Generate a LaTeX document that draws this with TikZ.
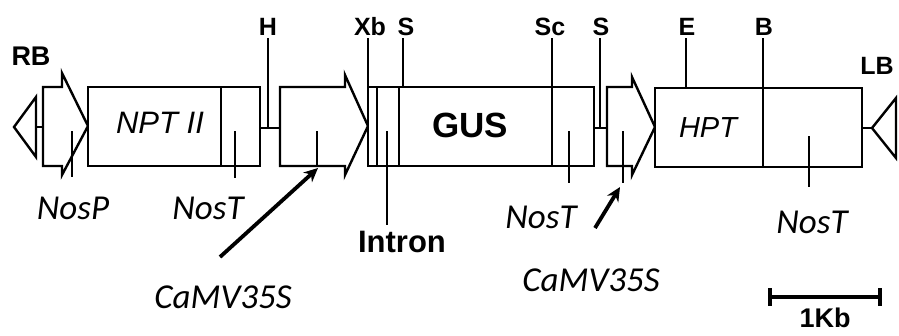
\documentclass[tikz,border=0pt]{standalone}
\usepackage{fontspec}
\setmainfont{Liberation Sans}
\newfontfamily\calfont{Carlito}
\usetikzlibrary{arrows.meta}
\tikzset{
  part/.style={draw=black, line width=2.4pt, line join=miter, fill=white},
  tick/.style={draw=black, line width=2.4pt},
  site/.style={font=\fontsize{25}{27}\selectfont\bfseries, inner sep=0pt},
  lab/.style={font=\calfont\itshape\fontsize{35}{38}\selectfont, inner sep=0pt},
  pointer/.style={draw=black, line width=3.8pt, -{Stealth[length=14pt,width=13pt]}},
}
\begin{document}
\begin{tikzpicture}[x=1pt,y=-1pt]
\useasboundingbox (0,0) rectangle (899,335);
% backbone links
\draw[tick] (36,127) -- (43,127);
\draw[tick] (260,128) -- (280,128);
\draw[tick] (594,128) -- (607,128);
\draw[tick] (862,128) -- (872,128);
% RB border
\draw[part] (36,97) -- (14,127) -- (36,157) -- cycle;
% NosP promoter arrow
\draw[part] (43,87) -- (62,87) -- (62,73) -- (88,126) -- (62,175) -- (62,166) -- (43,166) -- cycle;
% NPT II + NosT
\draw[part] (88,87) rectangle (260,166);
\draw[tick] (221,87) -- (221,166);
% CaMV35S promoter 1
\draw[part] (280,87) -- (345,87) -- (345,75) -- (368,126) -- (345,175) -- (345,166) -- (280,166) -- cycle;
% GUS box
\draw[part] (368,87) rectangle (594,166);
\draw[tick] (377,87) -- (377,166);
\draw[tick] (399,87) -- (399,166);
\draw[tick] (552,87) -- (552,166);
% CaMV35S promoter 2
\draw[part] (607,87) -- (632,87) -- (632,77) -- (655,127) -- (632,175) -- (632,166) -- (607,166) -- cycle;
% HPT + NosT
\draw[part] (655,88) rectangle (862,167);
\draw[tick] (763,88) -- (763,167);
% LB border
\draw[part] (896,98) -- (872,128) -- (896,158) -- cycle;
% site lines
\draw[tick] (268,38) -- (268,128);
\draw[tick] (368,38) -- (368,87);
\draw[tick] (403,38) -- (403,87);
\draw[tick] (552,38) -- (552,87);
\draw[tick] (600,38) -- (600,128);
\draw[tick] (686,38) -- (686,88);
\draw[tick] (763,38) -- (763,88);
% ticks pointing to labels
\draw[tick] (72,131) -- (72,177);
\draw[tick] (235,131) -- (235,178);
\draw[tick] (317,131) -- (317,166);
\draw[tick] (387,131) -- (387,225);
\draw[tick] (569,131) -- (569,183);
\draw[tick] (623,131) -- (623,183);
\draw[tick] (809,136) -- (809,187);
% texts in boxes
\node[font=\fontsize{31}{34}\selectfont\itshape, inner sep=0pt] (npt) at (160,123) {NPT II};
\node[font=\fontsize{35}{37}\selectfont\bfseries, inner sep=0pt] (gus) at (470,125) {GUS};
\node[font=\fontsize{29}{31}\selectfont\itshape, inner sep=0pt] (hpt) at (708,128) {HPT};
% site labels
\node[site, font=\fontsize{27}{29}\selectfont\bfseries] (rb) at (31,56) {RB};
\node[site] (h) at (268,27) {H};
\node[site] (xb) at (370,27) {Xb};
\node[site] (s1) at (406,27) {S};
\node[site] (sc) at (550,27) {Sc};
\node[site] (s2) at (601,27) {S};
\node[site] (e) at (687,27) {E};
\node[site] (b) at (764,27) {B};
\node[site] (lb) at (877,66) {LB};
% lower labels
\node[lab] (nosp) at (73,208) {NosP};
\node[lab] (nost1) at (208,208) {NosT};
\node[font=\fontsize{31}{33}\selectfont\bfseries, inner sep=0pt] (intron) at (402,242) {Intron};
\node[lab] (nost2) at (541,217) {NosT};
\node[lab] (nost3) at (812,222) {NosT};
\node[lab] (cam1) at (223,297) {CaMV35S};
\node[lab] (cam2) at (591,280) {CaMV35S};
% pointers
\coordinate (p1) at (318,168);
\coordinate (p2) at (620,187);
\coordinate (q1) at (220,257);
\coordinate (q2) at (595,228);
\draw[pointer] (q1) -- (p1);
\draw[pointer] (q2) -- (p2);
% scale bar
\coordinate (sbl) at (770,297);
\coordinate (sbr) at (880,297);
\draw[line width=3.2pt] (sbl) -- (sbr);
\draw[line width=3.2pt] (770,288) -- (770,306);
\draw[line width=3.2pt] (880,288) -- (880,306);
\node[font=\fontsize{27}{29}\selectfont\bfseries, inner sep=0pt] (kb) at (825,318) {1Kb};
\end{tikzpicture}
\end{document}
